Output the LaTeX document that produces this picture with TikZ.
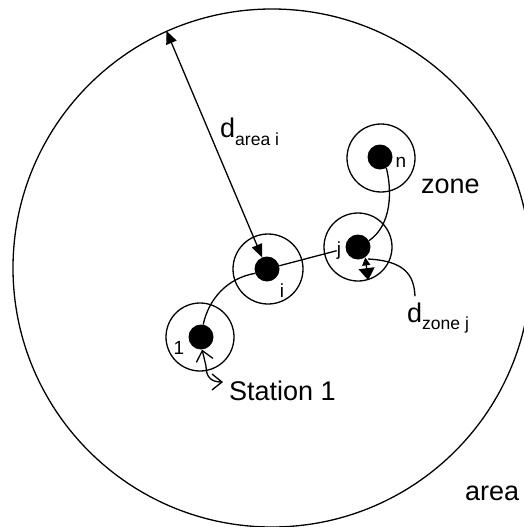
\documentclass[tikz,border=0pt]{standalone}
\usepackage{fontspec}
\setmainfont{Liberation Sans}
\usetikzlibrary{arrows.meta}
\newcommand\bigtxt{\fontsize{27}{30}\selectfont}
\newcommand\smalltxt{\fontsize{17.5}{20}\selectfont}
\newcommand\labtxt{\fontsize{19}{22}\selectfont}
\begin{document}
\begin{tikzpicture}[x=1pt,y=-1pt,
  ln/.style={line width=1.3pt},
  bigring/.style={circle,draw,ln,minimum size=518pt,inner sep=0pt},
  ring/.style={circle,draw,ln,minimum size=68pt,inner sep=0pt},
  dot/.style={circle,fill=black,minimum size=25pt,inner sep=0pt},
  lab/.style={inner sep=0pt,anchor=base,font=\labtxt},
  txt/.style={inner sep=0pt,anchor=base west,font=\bigtxt},
  tri/.style={ln,{Triangle[length=13pt,width=11pt]}-{Triangle[length=13pt,width=11pt]}},
  barb/.style={ln,line cap=round,{Straight Barb[length=10pt,width=17pt]}-{Straight Barb[length=10pt,width=16pt]}}
]
\useasboundingbox (0,0) rectangle (523,527);
\node[bigring] (big) at (272,268) {};
% zones
\node[ring] (z1) at (200,337) {};
\node[ring,minimum size=70pt] (zi) at (268,269) {};
\node[ring] (zj) at (358,247) {};
\node[ring] (zn) at (381,158) {};
% stations
\node[dot] (d1) at (201,337) {};
\node[dot] (di) at (267,269) {};
\node[dot] (dj) at (358,247) {};
\node[dot] (dn) at (380,157) {};
% station labels
\node[lab] (l1) at (179,354) {1};
\node[lab] (li) at (282,297) {i};
\node[lab] (lj) at (339,255) {j};
\node[lab] (ln) at (401,167) {n};
% texts
\node[txt] (tzone) at (421,193) {zone};
\node[txt] (tarea) at (465,500) {area};
\node[txt] (tst) at (229,400) {Station 1};
\node[txt] (tda) at (220,137) {d\raisebox{-8pt}{\smalltxt area i}};
\node[txt] (tdz) at (407,322) {d\raisebox{-7pt}{\smalltxt zone j}};
\coordinate (s1tip) at (223,382);
\coordinate (dzstart) at ([xshift=8pt,yshift=6pt]tdz.north west);
% connectors
\draw[tri] (big.114.4) -- (di);
\draw[ln] (di) -- (lj);
\draw[ln] (d1.80) .. controls (209,298) and (228,278) .. (di.200);
\draw[ln] (dn.-60) .. controls (392,190) and (392,225) .. (dj.30);
\draw[ln,{Triangle[length=8pt,width=8pt]}-{Triangle[length=12pt,width=16pt]}] (dj.-55) -- (zj.-73);
\draw[ln] (dzstart) .. controls (414,275) and (405,261) .. (368,259);
\draw[barb] (d1.-85) -- (206,366) .. controls (206,378) and (212,382) .. (s1tip);
\end{tikzpicture}
\end{document}
